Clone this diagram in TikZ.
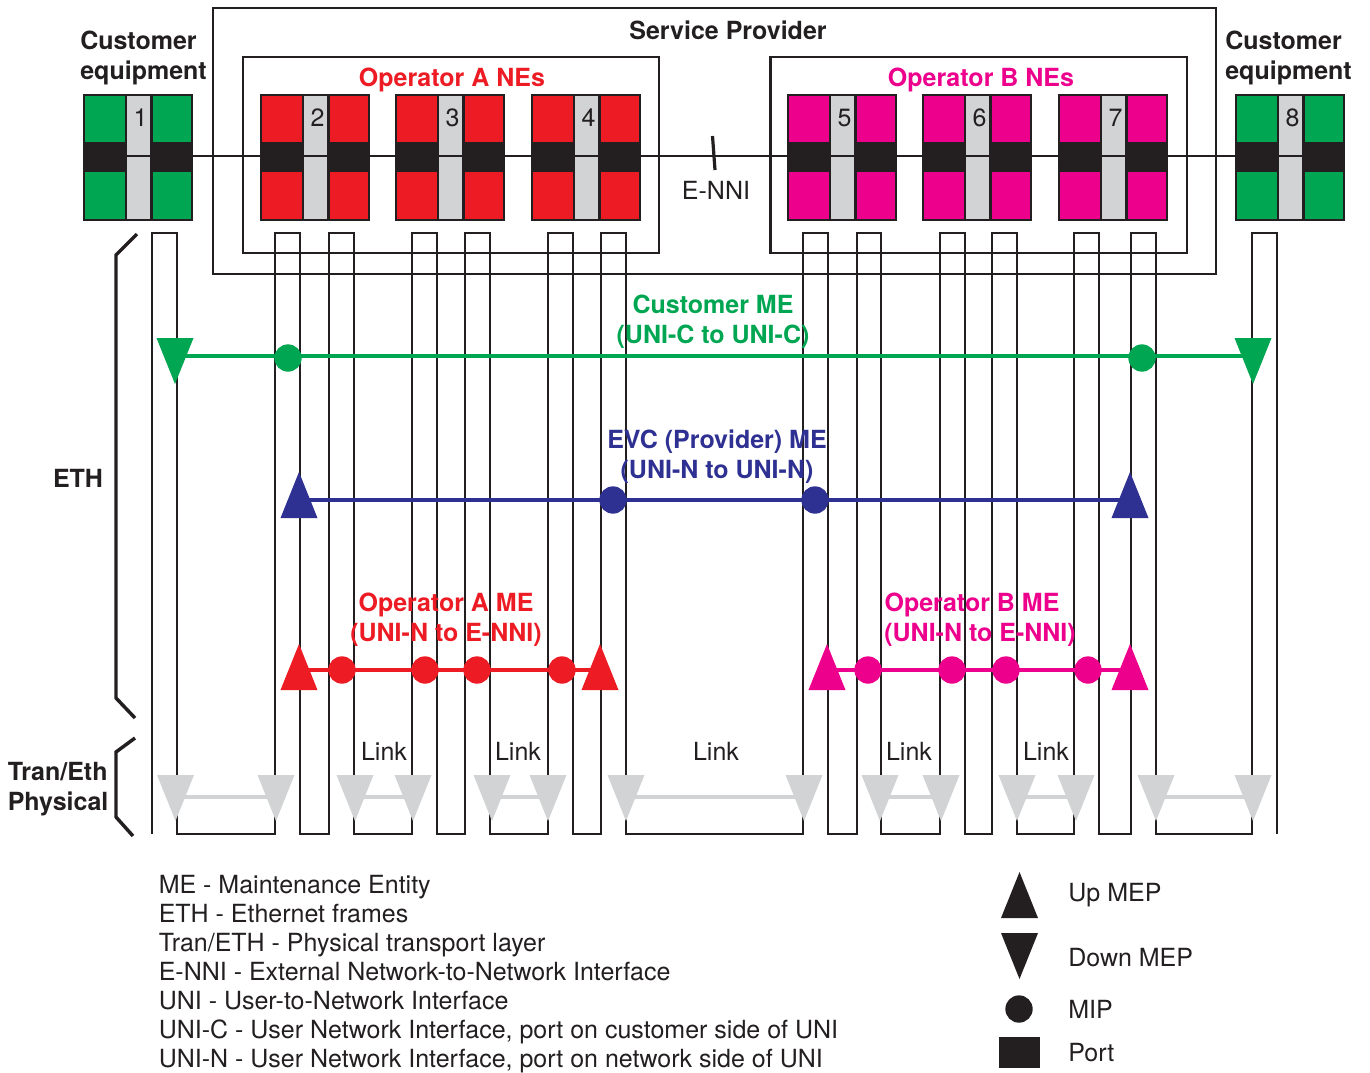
\documentclass[tikz,border=0pt]{standalone}
\usepackage{fontspec}
\setmainfont{TeX Gyre Heros}
\definecolor{cgreen}{HTML}{00A651}
\definecolor{cred}{HTML}{ED1C24}
\definecolor{cmag}{HTML}{EC008C}
\definecolor{cblue}{HTML}{2E3192}
\definecolor{cgray}{HTML}{D1D3D4}
\definecolor{cblack}{HTML}{231F20}
\newcommand{\upmep}[3]{\fill[#3] (#1-18.5,#2+46) -- (#1,#2) -- (#1+18.5,#2+46) -- cycle;}
\newcommand{\downmep}[3]{\fill[#3] (#1-18.5,#2) -- (#1,#2+46) -- (#1+18.5,#2) -- cycle;}
\newcommand{\device}[4]{%
  \node[devbox,fill=#3] (#4) at (#1+54,157.5) {};
  \draw[wire,line width=2.2pt,fill=#3] (#1,95) rectangle (#1+108,220);
  \fill[cblack] (#1-1,142) rectangle (#1+109,172);
  \draw[wire,fill=cgray,line width=1.9pt] (#1+42,95) rectangle (#1+67.5,220);
  \draw[wire,line width=1.9pt] (#1+42,156) -- (#1+67.5,156);
  \node[lbl,anchor=center] at (#1+56.5,118) {#2};
}
\tikzset{
  wire/.style={draw=cblack,line width=1.9pt,line join=miter},
  devbox/.style={minimum width=81pt,minimum height=93.75pt,inner sep=0pt,outer sep=0pt},
  lbl/.style={font=\fontsize{18.75}{22}\selectfont,text=cblack,inner sep=0pt},
  bold/.style={lbl,font=\fontsize{18.75}{22}\selectfont\bfseries},
  mip/.style={circle,minimum size=20.5pt,inner sep=0pt,outer sep=0pt},
  meline/.style={line width=2.6pt},
  brace/.style={draw=cblack,line width=2.6pt,line join=miter},
  gline/.style={draw=cgray,line width=3pt}
}
\begin{document}
\begin{tikzpicture}[x=0.75pt,y=-0.75pt]
\useasboundingbox (0,0) rectangle (1370,1072);
% provider boxes
\draw[wire] (213,8) rectangle (1216,274);
\draw[wire] (243,57) rectangle (659,253);
\draw[wire] (770.5,57) rectangle (1187,253);
% loops
\draw[wire] (152,834) \foreach \a/\b in {152/177,275/300,329/354,412/437,465/490,548/573,601/626,803/828,857/881,940/965,992/1017,1074/1099,1131/1156,1252/1277} {-- (\a,834) -- (\a,233) -- (\b,233) -- (\b,834)};
% main line
\coordinate (ml) at (0,156);
\coordinate (tt) at (712.5,136);
\coordinate (tb) at (715,170);
% devices
\device{84}{1}{cgreen}{d1}
\device{261}{2}{cred}{d2}
\device{396}{3}{cred}{d3}
\device{532}{4}{cred}{d4}
\device{788}{5}{cmag}{d5}
\device{923}{6}{cmag}{d6}
\device{1059}{7}{cmag}{d7}
\device{1236}{8}{cgreen}{d8}
\draw[wire] (d1.east |- ml) -- (d2.west |- ml);
\draw[wire] (d2.east |- ml) -- (d3.west |- ml);
\draw[wire] (d3.east |- ml) -- (d4.west |- ml);
\draw[wire] (d4.east |- ml) -- (d5.west |- ml);
\draw[wire] (d5.east |- ml) -- (d6.west |- ml);
\draw[wire] (d6.east |- ml) -- (d7.west |- ml);
\draw[wire] (d7.east |- ml) -- (d8.west |- ml);
\draw[wire,line width=2.4pt] (tt) -- (tb);
% header texts
\node[bold,anchor=base] at (728,39) {Service Provider};
\node[bold,anchor=base west] at (80,49) {Customer};
\node[bold,anchor=base west] at (80,79) {equipment};
\node[bold,anchor=base west] at (1225,49) {Customer};
\node[bold,anchor=base west] at (1225,79) {equipment};
\node[bold,anchor=base,text=cred] at (452,86) {Operator A NEs};
\node[bold,anchor=base,text=cmag] at (981,86) {Operator B NEs};
\node[lbl,anchor=base] at (716,199) {E-NNI};
% grey transport layer
\foreach \a/\b in {175.5/276,355/413,492/548,626/804,880/941,1017/1076,1156/1253}{
  \draw[gline] (\a,796.5) -- (\b,796.5);
  \downmep{\a}{775}{cgray}
  \downmep{\b}{775}{cgray}
}
% Customer ME
\coordinate (g1) at (175,356);
\coordinate (g2) at (1253,356);
\draw[meline,draw=cgreen] (g1) -- (g2);
\downmep{175}{338}{cgreen}
\downmep{1253}{338}{cgreen}
\node[mip,fill=cgreen] (gm1) at (288,358) {};
\node[mip,fill=cgreen] (gm2) at (1142,358) {};
% EVC ME
\coordinate (b1) at (299,500);
\coordinate (b2) at (1130,500);
\draw[meline,draw=cblue] (b1) -- (b2);
\upmep{299}{472}{cblue}
\upmep{1130}{472}{cblue}
\node[mip,fill=cblue] (bm1) at (613,500) {};
\node[mip,fill=cblue] (bm2) at (815,500) {};
% Operator A ME
\coordinate (r1) at (299,670);
\coordinate (r2) at (600,670);
\draw[meline,draw=cred] (r1) -- (r2);
\upmep{299}{644}{cred}
\upmep{600}{644}{cred}
\foreach \x/\n in {342/1,425/2,477/3,562/4} \node[mip,fill=cred] (rm\n) at (\x,670) {};
% Operator B ME
\coordinate (m1) at (827,670);
\coordinate (m2) at (1130,670);
\draw[meline,draw=cmag] (m1) -- (m2);
\upmep{827}{644}{cmag}
\upmep{1130}{644}{cmag}
\foreach \x/\n in {868/1,952/2,1006/3,1088/4} \node[mip,fill=cmag] (mm\n) at (\x,670) {};
% ME labels
\node[bold,anchor=base,text=cgreen] at (713,313) {Customer ME};
\node[bold,anchor=base,text=cgreen] at (713,343) {(UNI-C to UNI-C)};
\node[bold,anchor=base,text=cblue] at (717,448) {EVC (Provider) ME};
\node[bold,anchor=base,text=cblue] at (717,478) {(UNI-N to UNI-N)};
\node[bold,anchor=base,text=cred] at (446,611) {Operator A ME};
\node[bold,anchor=base,text=cred] at (446,641) {(UNI-N to E-NNI)};
\node[bold,anchor=base,text=cmag] at (972,611) {Operator B ME};
\node[bold,anchor=base,text=cmag] at (980,641) {(UNI-N to E-NNI)};
% Links
\node[lbl,anchor=base] at (384,760) {Link};
\node[lbl,anchor=base] at (518,760) {Link};
\node[lbl,anchor=base] at (716,760) {Link};
\node[lbl,anchor=base] at (909,760) {Link};
\node[lbl,anchor=base] at (1046,760) {Link};
% layer braces
\draw[brace] (137,234) -- (116,255) -- (116,698) -- (135,718);
\draw[brace] (135,738) -- (116,752) -- (116,817) -- (133,836);
\node[bold,anchor=base] at (78,487) {ETH};
\node[bold,anchor=base west] at (7.5,780) {Tran/Eth};
\node[bold,anchor=base west] at (7.5,810) {Physical};
% legend
\node[lbl,anchor=base west] at (158.5,893) {ME - Maintenance Entity};
\node[lbl,anchor=base west] at (158.5,922) {ETH - Ethernet frames};
\node[lbl,anchor=base west] at (158.5,951) {Tran/ETH - Physical transport layer};
\node[lbl,anchor=base west] at (158.5,980) {E-NNI - External Network-to-Network Interface};
\node[lbl,anchor=base west] at (158.5,1009) {UNI - User-to-Network Interface};
\node[lbl,anchor=base west] at (158.5,1038) {UNI-C - User Network Interface, port on customer side of UNI};
\node[lbl,anchor=base west] at (158.5,1067) {UNI-N - User Network Interface, port on network side of UNI};
\upmep{1019.5}{872}{cblack}
\downmep{1019.5}{933}{cblack}
\node[mip,fill=cblack] (lm) at (1019,1009) {};
\fill[cblack] (999,1037) rectangle (1040,1068);
\node[lbl,anchor=base west] at (1068,901) {Up MEP};
\node[lbl,anchor=base west] at (1068,966) {Down MEP};
\node[lbl,anchor=base west] at (1068,1018) {MIP};
\node[lbl,anchor=base west] at (1068,1061) {Port};
\end{tikzpicture}
\end{document}
